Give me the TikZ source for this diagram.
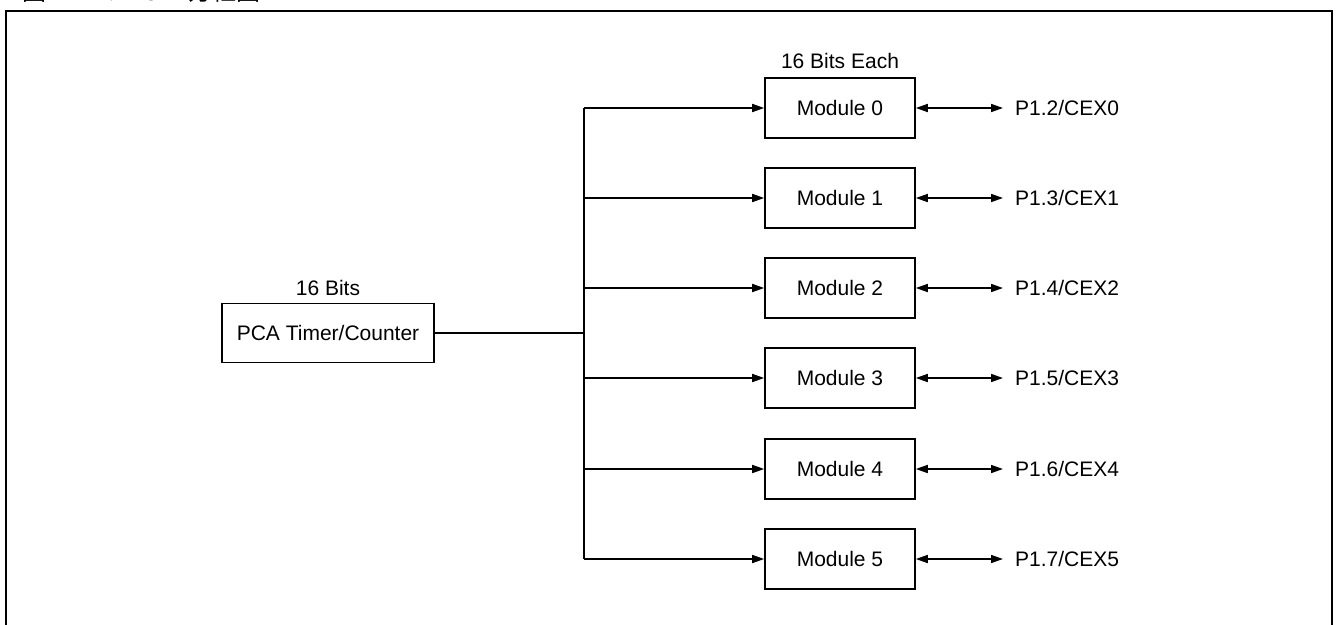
\documentclass[tikz,border=0pt]{standalone}
\usepackage{fontspec}
\setmainfont{Liberation Sans}
\newfontfamily\cjk{Noto Sans CJK SC}
\usetikzlibrary{arrows.meta}
\begin{document}
\begin{tikzpicture}[x=1pt,y=-1pt,
  box/.style={draw, line width=1.6pt, inner sep=0pt, minimum height=60pt, font=\fontsize{21}{25}\selectfont},
  modbox/.style={box, minimum width=150pt},
  wire/.style={line width=1.6pt},
  arr/.style={wire, -{Triangle[length=12pt,width=8pt]}},
  biarr/.style={wire, {Triangle[length=12pt,width=8pt]}-{Triangle[length=12pt,width=8pt]}},
  lbl/.style={inner sep=0pt, font=\fontsize{21}{25}\selectfont},
  pin/.style={lbl, anchor=west}
]
\useasboundingbox (0,0) rectangle (1341,624);
\begin{scope}
  \clip (0,0) rectangle (1341,624);
  \node[anchor=base west, inner sep=0pt, font=\cjk\fontsize{24}{28}\selectfont] (cap) at (22,0.2) {图\hspace{14pt}11-1.\hspace{12pt}PCA\hspace{16pt}方框图};
  \draw[line width=2.2pt] (6,640) -- (6,11) -- (1332,11) -- (1332,640);
\end{scope}

\node[box, minimum width=212pt, minimum height=59pt] (pca) at (328,333) {PCA Timer/Counter};
\node[lbl, anchor=base] (pcabits) at (328,295) {16 Bits};

\foreach \i/\y in {0/108,1/198,2/288,3/378,4/469,5/559}{
  \node[modbox] (m\i) at (840,\y) {Module \i};
  \coordinate (t\i) at (584,\y);
  \node[pin] (p\i) at (1015,\y) {P1.\the\numexpr\i+2\relax/CEX\i};
  \draw[arr] (t\i) -- (m\i.west);
  \draw[biarr] (m\i.east) -- ([xshift=-12pt]p\i.west);
}
\node[lbl, anchor=base] (eachbits) at (840,68) {16 Bits Each};

\coordinate (j) at (584,333);
\draw[wire] (pca.east) -- (j);
\draw[wire] (t0) -- (t5);
\end{tikzpicture}
\end{document}
